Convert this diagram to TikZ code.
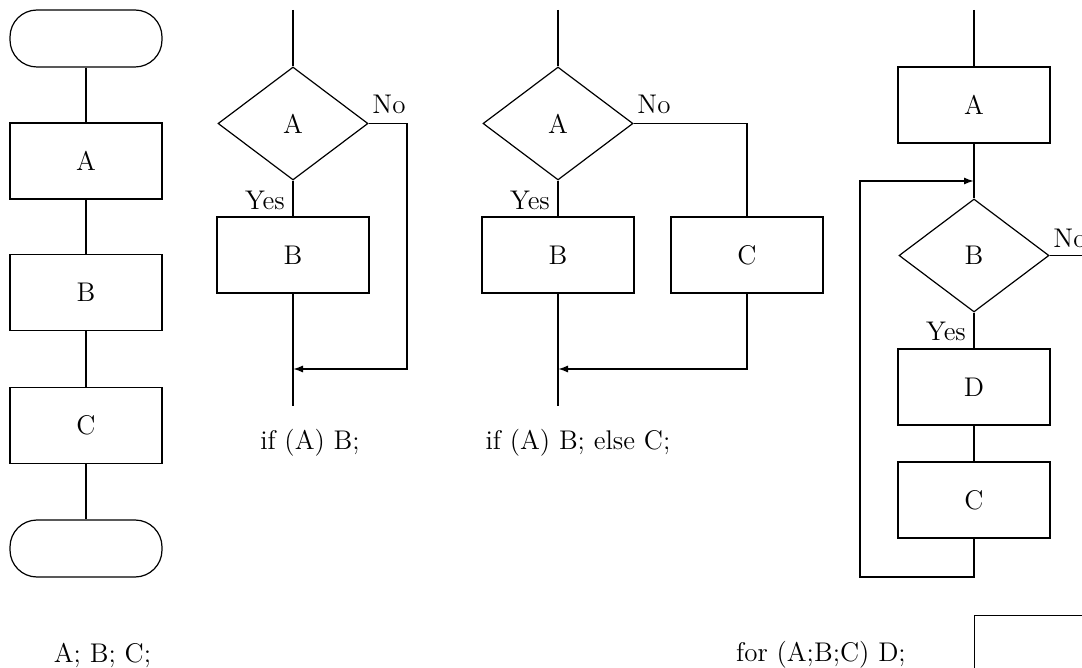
\documentclass[tikz,border=0pt]{standalone}
\usetikzlibrary{shapes.geometric,arrows.meta}
\begin{document}
\begin{tikzpicture}[x=0.5pt,y=-0.5pt,
  font=\fontsize{13.5}{16}\selectfont,
  box/.style={draw,line width=0.6pt,minimum width=76pt,minimum height=38pt,inner sep=0pt},
  term/.style={draw,line width=0.6pt,rounded corners=13.5pt,minimum width=76pt,minimum height=28.5pt,inner sep=0pt},
  dec/.style={draw,diamond,line width=0.6pt,minimum width=75pt,minimum height=56.5pt,inner sep=0pt},
  conn/.style={line width=0.7pt},
  arr/.style={line width=0.9pt,-{Latex[length=5pt,width=3.6pt]}},
]
\clip (0,0) rectangle (1082,668);
% ---------- column 1: sequence ----------
\node[term] (t1) at (86,38.5) {};
\node[box] (a1) at (86,161) {A};
\node[box] (b1) at (86,292.5) {B};
\node[box] (c1) at (86,425.5) {C};
\node[term] (t2) at (86,548.5) {};
\draw[conn] (t1) -- (a1) -- (b1) -- (c1) -- (t2);
\node (l1) at (102.5,655) {A; B; C;};
% ---------- column 2: if ----------
\coordinate (top2) at (293,10);
\node[dec] (d2) at (293,123.5) {A};
\node[box] (b2) at (293,255) {B};
\coordinate (bot2) at (293,406);
\coordinate (r2) at (407,123.5);
\coordinate (m2) at (293,369);
\draw[conn] (top2) -- (d2.north);
\draw[conn] (d2.south) -- (b2.north);
\draw[conn] (b2.south) -- (bot2);
\draw[conn] (d2.east) -- (r2);
\draw[arr] (r2) |- (m2);
\node (no2) at (389,104) {No};
\node (yes2) at (265,200) {Yes};
\node (l2) at (310,443) {if (A) B;};
% ---------- column 3: if else ----------
\coordinate (top3) at (558,10);
\node[dec] (d3) at (558,123.5) {A};
\node[box] (b3) at (558,255) {B};
\node[box] (c3) at (747,255) {C};
\coordinate (bot3) at (558,406);
\coordinate (m3) at (558,369);
\draw[conn] (top3) -- (d3.north);
\draw[conn] (d3.south) -- (b3.north);
\draw[conn] (d3.east) -| (c3.north);
\draw[conn,line width=0.9pt] (b3.south) -- (bot3);
\draw[arr] (c3.south) |- (m3);
\node (no3) at (654,104) {No};
\node (yes3) at (530,200) {Yes};
\node (l3) at (578,443) {if (A) B; else C;};
% ---------- column 4: for ----------
\coordinate (top4) at (974,10);
\node[box] (a4) at (974,105) {A};
\node[dec] (d4) at (974,255.5) {B};
\node[box] (dd4) at (974,387) {D};
\node[box] (c4) at (974,500) {C};
\coordinate (j4) at (974,181);
\coordinate (ll4) at (860,577);
\coordinate (r4) at (1130,255.5);
\draw[conn] (top4) -- (a4.north);
\draw[conn] (a4.south) -- (d4.north);
\draw[conn] (d4.south) -- (dd4.north);
\draw[conn] (dd4.south) -- (c4.north);
\draw[conn] (d4.east) -- (r4);
\draw[arr] (c4.south) |- (ll4) |- (j4);
\node (no4) at (1070,238) {No};
\node (yes4) at (946,331) {Yes};
\node (l4) at (821,655) {for (A;B;C) D;};
\node[box,anchor=north west] (e4) at (974,615) {};
\end{tikzpicture}
\end{document}
